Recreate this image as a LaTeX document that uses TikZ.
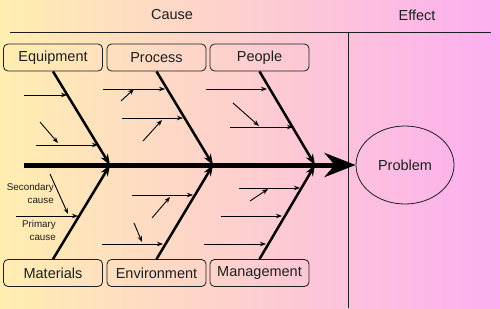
\documentclass[tikz,border=0pt]{standalone}
\usepackage{fontspec}
\setmainfont{Liberation Sans}
\usetikzlibrary{arrows.meta,shapes.geometric}
\definecolor{bgleft}{RGB}{255,238,176}
\definecolor{bgmid}{RGB}{255,200,200}
\definecolor{bgright}{RGB}{252,174,240}
\definecolor{ink}{RGB}{30,30,30}
\begin{document}
\begin{tikzpicture}[x=1pt,y=-1pt,
  box/.style={draw=ink, line width=0.8pt, rounded corners=4.5pt, minimum width=99pt, minimum height=27pt, inner sep=0pt, font=\fontsize{14.5}{16}\selectfont, text=ink},
  head/.style={font=\fontsize{14.5}{16}\selectfont, text=ink},
  rule/.style={draw=ink, line width=0.8pt},
  bone/.style={draw=black, line width=2.5pt, -{Stealth[length=11pt,width=8pt]}},
  sub/.style={draw=black, line width=0.9pt, -{Stealth[length=6pt,width=4.5pt]}},
  note/.style={font=\fontsize{9.8}{13}\selectfont, text=ink, align=right, anchor=east, inner sep=0pt}]
\useasboundingbox (0,0) rectangle (500,308);
\shade[left color=bgleft, middle color=bgmid, right color=bgright] (0,0) rectangle (500,308);
% headings and frame
\node[head] (cause) at (172,15) {Cause};
\node[head] (effect) at (417,15) {Effect};
\coordinate (hl) at (10,32);
\coordinate (hr) at (491,32);
\coordinate (vt) at (348,32);
\coordinate (vb) at (348,308);
\draw[rule] (hl) -- (hr);
\draw[rule] (vt) -- (vb);
% category boxes
\node[box] (equip) at (53,57.5) {Equipment};
\node[box] (proc) at (156.5,57.5) {Process};
\node[box] (people) at (259.5,57.5) {People};
\node[box] (mat) at (53,273) {Materials};
\node[box] (env) at (156.5,273) {Environment};
\node[box] (mgmt) at (259.5,273) {Management};
% effect
\node[draw=ink, line width=0.8pt, ellipse, minimum width=98pt, minimum height=78pt, inner sep=0pt, font=\fontsize{14.5}{16}\selectfont, text=ink] (prob) at (405,165) {Problem};
% spine
\coordinate (s0) at (24,165);
\coordinate (j1) at (110,165);
\coordinate (j2) at (213,165);
\coordinate (j3) at (315,165);
\draw[line width=5pt, -{Stealth[length=31pt,width=24pt]}] (s0) -- (prob.west);
% bones
\draw[bone] (equip.south) -- (j1);
\draw[bone] (proc.south) -- (j2);
\draw[bone] (people.south) -- (j3);
\draw[bone] (mat.north) -- (j1);
\draw[bone] (env.north) -- (j2);
\draw[bone] (mgmt.north) -- (j3);
% Equipment causes
\draw[sub] (24,95) -- (67,95);
\draw[sub] (36,145) -- (98,145);
\draw[sub] (40,122) -- (58,143);
% Process causes
\draw[sub] (103,89) -- (165,89);
\draw[sub] (121,101) -- (134,89);
\draw[sub] (122,118) -- (183,118);
\draw[sub] (143,141) -- (162,120);
% People causes
\draw[sub] (206,89) -- (267,89);
\draw[sub] (233,103) -- (259,126);
\draw[sub] (230,127) -- (293,127);
% Materials causes
\draw[sub] (50,174) -- (68,214);
\draw[sub] (16,216) -- (78,216);
\node[note] (sec) at (54,193.5) {Secondary\\cause};
\node[note] (pri) at (56,230.5) {Primary\\cause};
% Environment causes
\draw[sub] (132,195) -- (193,195);
\draw[sub] (152,218) -- (170,197);
\draw[sub] (134,223) -- (142,242);
\draw[sub] (102,244) -- (163,244);
% Management causes
\draw[sub] (239,188) -- (300,188);
\draw[sub] (250,201) -- (268,189);
\draw[sub] (221,216) -- (282,216);
\draw[sub] (204,244) -- (266,244);
\end{tikzpicture}
\end{document}
